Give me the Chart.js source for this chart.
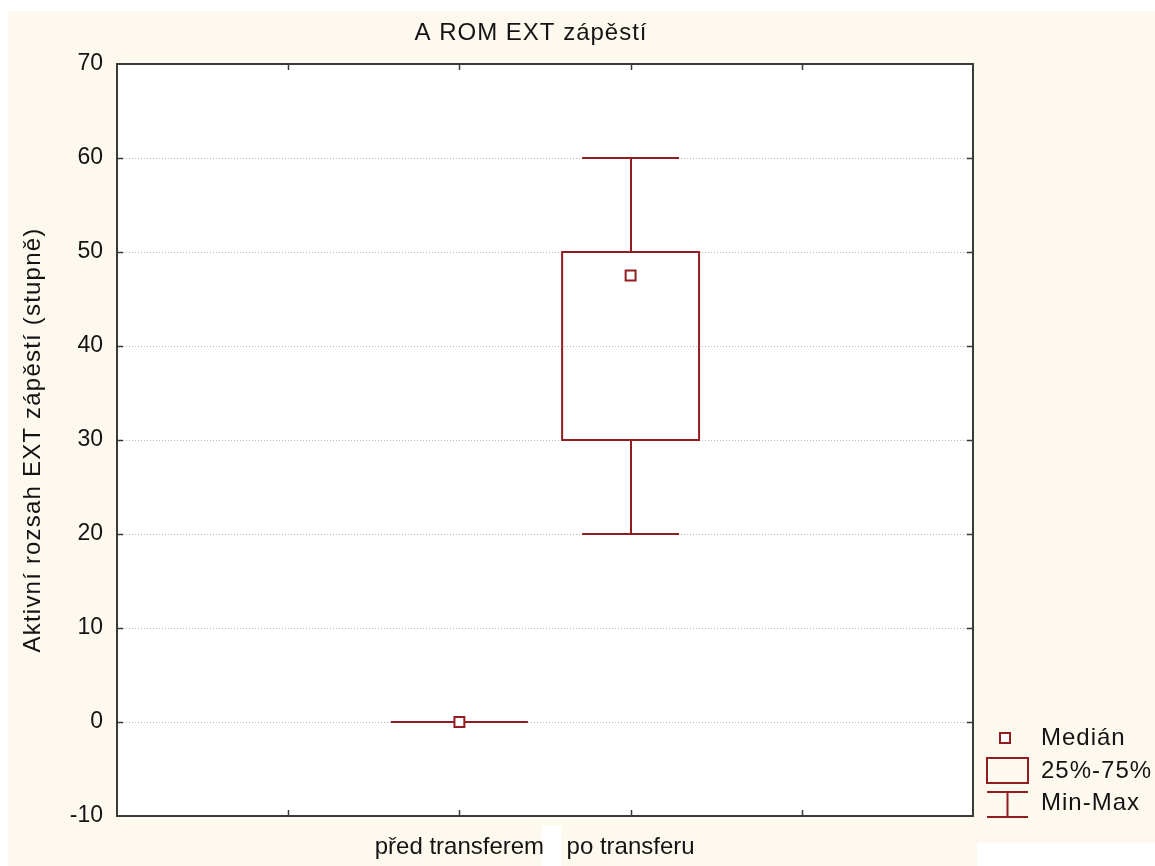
<!DOCTYPE html>
<html>
<head>
<meta charset="utf-8">
<script src="https://cdn.jsdelivr.net/npm/chart.js@4/dist/chart.umd.min.js"></script>
<style>
  html, body { margin: 0; padding: 0; background: #ffffff; }
  #wrap { width: 1155px; height: 866px; position: relative; }
</style>
</head>
<body>
<div id="wrap"><canvas id="c" width="1155" height="866"></canvas></div>
<script>
// Box-plot values per group
const categories   = ['před transferem', 'po transferu'];
const minValues    = [0, 20];
const q1Values     = [0, 30];
const medianValues = [0, 47.5];
const q3Values     = [0, 50];
const maxValues    = [0, 60];

// Axis ticks and texts
const yTickValues  = [-10, 0, 10, 20, 30, 40, 50, 60, 70];
const legendLabels = ['Medián', '25%-75%', 'Min-Max'];
const chartTitle   = 'A ROM EXT zápěstí';
const yAxisTitle   = 'Aktivní rozsah EXT zápěstí (stupně)';

// Styling
const RED = '#921c1f';
const FRAME = '#3a3a3a';
const CREAM = '#fef9ef';
const TEXT = '#141414';
const FONT = '"Liberation Sans", Arial, sans-serif';
const SLOT_OFFSET = 2;      // groups sit on x = 2, 3 of a 0..5 axis
const BOX_HALF = 0.4;       // half box width, in x units
const CAP_HALF = 0.283;     // half whisker-cap width, in x units

const boxPlugin = {
  id: 'boxPlot',
  beforeDraw(chart) {
    const { ctx, chartArea: a } = chart;
    ctx.save();
    ctx.fillStyle = '#ffffff';
    ctx.fillRect(0, 0, chart.width, chart.height);
    ctx.fillStyle = CREAM;
    ctx.fillRect(8, 11, chart.width - 8, chart.height - 11);
    ctx.fillStyle = '#ffffff';
    ctx.fillRect(977, 843, chart.width - 977, chart.height - 843);
    ctx.fillRect(542, 826, 19, chart.height - 826);
    ctx.fillRect(a.left, a.top, a.right - a.left, a.bottom - a.top);
    ctx.restore();
  },
  beforeDatasetsDraw(chart) {
    const { ctx } = chart;
    const xs = chart.scales.x, ys = chart.scales.y;
    ctx.save();
    ctx.strokeStyle = RED;
    ctx.lineWidth = 2;
    categories.forEach((c, i) => {
      const xv = i + SLOT_OFFSET;
      const xc = Math.round(xs.getPixelForValue(xv));
      const bl = xs.getPixelForValue(xv - BOX_HALF);
      const br = xs.getPixelForValue(xv + BOX_HALF);
      const cl = xs.getPixelForValue(xv - CAP_HALF);
      const cr = xs.getPixelForValue(xv + CAP_HALF);
      const yMin = ys.getPixelForValue(minValues[i]);
      const yQ1 = ys.getPixelForValue(q1Values[i]);
      const yQ3 = ys.getPixelForValue(q3Values[i]);
      const yMax = ys.getPixelForValue(maxValues[i]);
      ctx.beginPath();
      // whiskers
      ctx.moveTo(xc, yQ3); ctx.lineTo(xc, yMax);
      ctx.moveTo(cl, yMax); ctx.lineTo(cr, yMax);
      ctx.moveTo(xc, yQ1); ctx.lineTo(xc, yMin);
      ctx.moveTo(cl, yMin); ctx.lineTo(cr, yMin);
      ctx.stroke();
      // box
      ctx.beginPath();
      ctx.rect(bl, yQ3, br - bl, yQ1 - yQ3);
      ctx.stroke();
    });
    ctx.restore();
  },
  afterDraw(chart) {
    const { ctx, chartArea: a } = chart;
    const xs = chart.scales.x, ys = chart.scales.y;
    ctx.save();
    // frame
    ctx.strokeStyle = FRAME;
    ctx.lineWidth = 2;
    ctx.strokeRect(a.left, a.top, a.right - a.left, a.bottom - a.top);
    // inward tick marks
    ctx.beginPath();
    ys.ticks.forEach(t => {
      if (t.value <= ys.min || t.value >= ys.max) return;
      const y = Math.round(ys.getPixelForValue(t.value)) + 0.5;
      ctx.moveTo(a.left, y); ctx.lineTo(a.left + 6, y);
      ctx.moveTo(a.right, y); ctx.lineTo(a.right - 6, y);
    });
    xs.ticks.forEach(t => {
      if (t.value <= xs.min || t.value >= xs.max) return;
      const x = Math.round(xs.getPixelForValue(t.value)) + 0.5;
      ctx.moveTo(x, a.bottom); ctx.lineTo(x, a.bottom - 6);
      ctx.moveTo(x, a.top); ctx.lineTo(x, a.top + 6);
    });
    ctx.lineWidth = 1.5;
    ctx.stroke();

    ctx.fillStyle = TEXT;
    ctx.textBaseline = 'middle';
    if ('letterSpacing' in ctx) ctx.letterSpacing = '1px';

    // title
    ctx.font = '24px ' + FONT;
    ctx.textAlign = 'center';
    ctx.fillText(chartTitle, 531, 33);

    // y-axis title
    ctx.save();
    ctx.translate(33, (a.top + a.bottom) / 2);
    ctx.rotate(-Math.PI / 2);
    if ('letterSpacing' in ctx) ctx.letterSpacing = '1.2px';
    ctx.font = '24px ' + FONT;
    ctx.fillText(yAxisTitle, 0, 0);
    ctx.restore();

    // legend
    const lx = 987, rx = 1028, mx = (lx + rx) / 2;
    ctx.strokeStyle = RED;
    ctx.lineWidth = 2;
    ctx.fillStyle = '#ffffff';
    ctx.beginPath();
    ctx.rect(1000, 733, 10, 10);
    ctx.fill(); ctx.stroke();
    ctx.beginPath();
    ctx.rect(lx, 758, rx - lx, 25);
    ctx.moveTo(lx, 792); ctx.lineTo(rx, 792);
    ctx.moveTo(mx, 792); ctx.lineTo(mx, 817);
    ctx.moveTo(lx, 817); ctx.lineTo(rx, 817);
    ctx.stroke();
    ctx.fillStyle = TEXT;
    ctx.textAlign = 'left';
    ctx.font = '24px ' + FONT;
    [738, 771, 803].forEach((y, i) => ctx.fillText(legendLabels[i], 1041, y));
    ctx.restore();
  }
};

new Chart(document.getElementById('c'), {
  type: 'scatter',
  data: {
    datasets: [{
      label: legendLabels[0],
      data: medianValues.map((v, i) => ({ x: i + SLOT_OFFSET, y: v })),
      pointStyle: 'rect',
      pointRadius: 7,
      pointHoverRadius: 7,
      borderWidth: 2,
      borderColor: RED,
      backgroundColor: '#ffffff',
      showLine: false
    }]
  },
  options: {
    responsive: false,
    animation: false,
    devicePixelRatio: 1,
    events: [],
    layout: { padding: { left: 0, top: 64, right: 182, bottom: 0 } },
    plugins: { legend: { display: false }, tooltip: { enabled: false }, title: { display: false } },
    scales: {
      x: {
        type: 'linear',
        min: 0, max: 5,
        afterFit(s) { s.height = 50; },
        ticks: {
          stepSize: 1,
          autoSkip: false,
          maxRotation: 0,
          padding: 17,
          color: TEXT,
          font: { family: FONT, size: 24 },
          callback: v => categories[v - SLOT_OFFSET] ?? ''
        },
        grid: { display: false, drawTicks: false },
        border: { display: false }
      },
      y: {
        type: 'linear',
        min: -10, max: 70,
        afterFit(s) { s.width = 117; },
        afterBuildTicks(s) { s.ticks = yTickValues.map(v => ({ value: v })); },
        ticks: {
          padding: 14,
          color: TEXT,
          font: { family: FONT, size: 23 },
          callback: v => String(v)
        },
        grid: {
          drawTicks: false,
          lineWidth: 1,
          color: c => (c.tick && (c.tick.value === -10 || c.tick.value === 70)) ? 'rgba(0,0,0,0)' : '#b8b8b8'
        },
        border: { display: false, dash: [1, 2] },
        title: { display: false }
      }
    }
  },
  plugins: [boxPlugin]
});
</script>
</body>
</html>
